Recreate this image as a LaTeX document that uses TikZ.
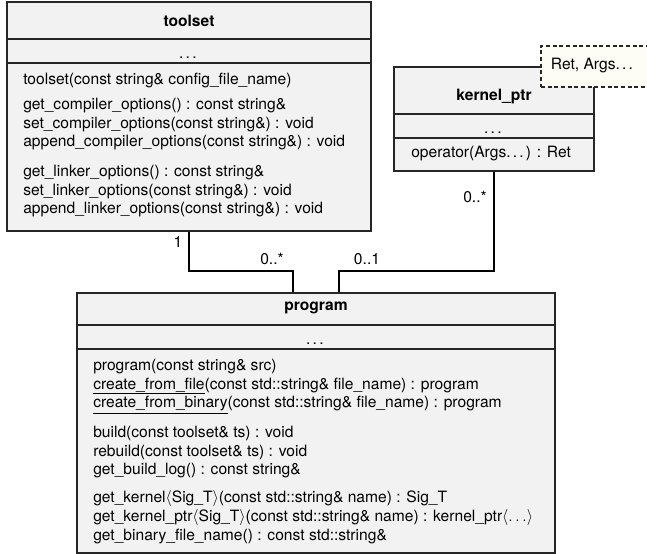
\documentclass[tikz,border=0pt]{standalone}
\usepackage{fontspec}
\setmainfont{TeX Gyre Heros}
\usetikzlibrary{fit}
\definecolor{boxfill}{HTML}{F2F2F2}
\definecolor{notefill}{HTML}{FDFDF5}
\newcommand\spdots{.\kern\fontdimen3\font.\kern\fontdimen3\font.\kern\fontdimen3\font}
\tikzset{
  umlbox/.style={draw=black!85, fill=boxfill, line width=0.9pt, inner sep=0pt},
  notebox/.style={draw=black!85, fill=notefill, line width=0.8pt, dash pattern=on 3pt off 2pt, inner sep=0pt},
  sepline/.style={draw=black!85, line width=0.8pt},
  conn/.style={draw=black, line width=0.8pt},
  member/.style={anchor=west, inner sep=0pt, font=\fontsize{11.7}{14}\selectfont},
  title/.style={anchor=center, inner sep=0pt, font=\fontsize{11.7}{14}\selectfont\bfseries},
  dotsnode/.style={anchor=base, inner sep=0pt, font=\fontsize{11.7}{14}\selectfont},
  mult/.style={anchor=center, inner sep=0pt, font=\fontsize{11.7}{14}\selectfont},
}
\begin{document}
\begin{tikzpicture}[x=0.75pt, y=-0.75pt]
\useasboundingbox (0,0) rectangle (647,554);
% box corners
\coordinate (tsA) at (7,2);
\coordinate (tsB) at (371,231);
\coordinate (kpA) at (394,67);
\coordinate (kpB) at (594,171);
\coordinate (prA) at (77,293);
\coordinate (prB) at (555,553);
\coordinate (ntA) at (541,46);
\coordinate (ntB) at (655,87);

% toolset
\node[umlbox, fit=(tsA)(tsB)] (toolset) {};
\draw[sepline] (toolset.west |- 0,39) -- (toolset.east |- 0,39);
\draw[sepline] (toolset.west |- 0,63) -- (toolset.east |- 0,63);
\node[title] (tstitle) at (189,21) {toolset};
\node[dotsnode] (tsdots) at (189,58) {\spdots};
\node[member] (ts1) at (23,80) {toolset(const string\& config\_file\_name)};
\node[member] (ts2) at (23,106) {get\_compiler\_options() : const string\&};
\node[member] (ts3) at (23,125) {set\_compiler\_options(const string\&) : void};
\node[member] (ts4) at (23,143) {append\_compiler\_options(const string\&) : void};
\node[member] (ts5) at (23,173) {get\_linker\_options() : const string\&};
\node[member] (ts6) at (23,192) {set\_linker\_options(const string\&) : void};
\node[member] (ts7) at (23,210) {append\_linker\_options(const string\&) : void};

% kernel_ptr
\node[umlbox, fit=(kpA)(kpB)] (kernel) {};
\draw[sepline] (kernel.west |- 0,114) -- (kernel.east |- 0,114);
\draw[sepline] (kernel.west |- 0,138) -- (kernel.east |- 0,138);
\node[title] (kptitle) at (494,97) {kernel\_ptr};
\node[dotsnode] (kpdots) at (494,133) {\spdots};
\node[member] (kp1) at (411,154) {operator(Args\spdots) : Ret};

% template note
\node[notebox, fit=(ntA)(ntB)] (note) {};
\node[mult] (notetext) at (593,66) {Ret, Args\spdots};

% program
\node[umlbox, fit=(prA)(prB)] (program) {};
\draw[sepline] (program.west |- 0,325) -- (program.east |- 0,325);
\draw[sepline] (program.west |- 0,349) -- (program.east |- 0,349);
\node[title] (prtitle) at (316,308) {program};
\node[dotsnode] (prdots) at (316,344) {\spdots};
\node[member] (pr1) at (93,367) {program(const string\& src)};
\node[member] (pr2) at (93,386) {\underline{create\_from\_file}(const std::string\& file\_name) : program};
\node[member] (pr3) at (93,405) {\underline{create\_from\_binary}(const std::string\& file\_name) : program};
\node[member] (pr4) at (93,433) {build(const toolset\& ts) : void};
\node[member] (pr5) at (93,452) {rebuild(const toolset\& ts) : void};
\node[member] (pr6) at (93,471) {get\_build\_log() : const string\&};
\node[member] (pr7) at (93,498) {get\_kernel$\langle$Sig\_T$\rangle$(const std::string\& name) : Sig\_T};
\node[member] (pr8) at (93,517) {get\_kernel\_ptr$\langle$Sig\_T$\rangle$(const std::string\& name) : kernel\_ptr$\langle\dots\rangle$};
\node[member] (pr9) at (93,536) {get\_binary\_file\_name() : const std::string\&};

% connectors
\coordinate (c1) at (189,271);
\coordinate (c2) at (293,271);
\coordinate (c3) at (339,271);
\coordinate (c4) at (494,271);
\draw[conn] (toolset.south -| c1) -- (c1) -- (c2) -- (program.north -| c2);
\draw[conn] (program.north -| c3) -- (c3) -- (c4) -- (kernel.south -| c4);

% multiplicities
\node[mult] (m1) at (178,242) {1};
\node[mult] (m2) at (272,259) {0..*};
\node[mult] (m3) at (367,259) {0..1};
\node[mult] (m4) at (475,197) {0..*};
\end{tikzpicture}
\end{document}
